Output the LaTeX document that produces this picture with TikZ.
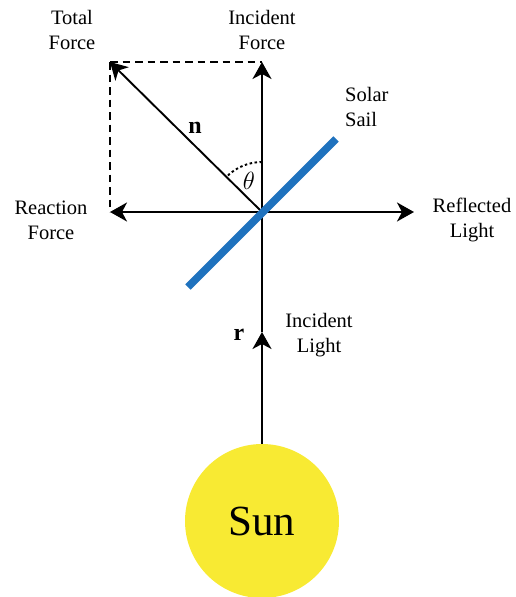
\documentclass[tikz,border=0pt]{standalone}
\usepackage{fontspec}
\setmainfont{Liberation Serif}
\usetikzlibrary{arrows.meta}
\definecolor{sunyellow}{RGB}{248,234,51}
\definecolor{sailblue}{RGB}{31,114,190}
\tikzset{
  lbl/.style={font=\fontsize{20.5}{25}\selectfont, align=center, inner sep=0pt},
  sym/.style={font=\fontsize{24}{24}\selectfont, inner sep=0pt},
  tip/.tip={Stealth[length=17pt,width=19pt,inset=5pt]},
  vec/.style={line width=1.9pt, -tip},
  guide/.style={line width=1.9pt, dash pattern=on 7.5pt off 5pt},
}
\begin{document}
\begin{tikzpicture}[x=1pt,y=-1pt]
\useasboundingbox (0,0) rectangle (516,597);
\coordinate (O) at (262,212);
\coordinate (T) at (262,62);
\coordinate (L) at (110,212);
\coordinate (R) at (414,212);
\coordinate (C) at (110,62);
\coordinate (M) at (262,332);
\coordinate (A) at (262,162);
\coordinate (S1) at (188,287);
\coordinate (S2) at (336,139);
\node[circle, fill=sunyellow, minimum size=154pt, inner sep=0pt,
      font=\fontsize{43}{50}\selectfont] (sun) at (262,521) {Sun};
% guides
\draw[guide] (C) -- (T);
\draw[guide] (C) -- (L);
% axes
\draw[vec] (O) -- (L);
\draw[vec] (O) -- (R);
\draw[vec] (sun.north) -- (M);
\draw[vec] (M) -- (T);
\draw[vec] (O) -- (C);
% theta arc
\draw[line width=1.9pt, dash pattern=on 2.5pt off 2.5pt] (A) arc[start angle=270, end angle=225, radius=50];
% sail
\draw[sailblue, line width=7.5pt] (S1) -- (S2);
% labels
\node[lbl] (tf) at (72,30) {Total\\Force};
\node[lbl] (if) at (262,30) {Incident\\Force};
\node[lbl, align=left, anchor=west] (ss) at (345,107) {Solar\\Sail};
\node[lbl] (rf) at (51,220) {Reaction\\Force};
\node[lbl] (rl) at (472,220) {Reflected\\Light};
\node[lbl] (il) at (319,335) {Incident\\Light};
\node[sym] (n) at (195,128) {$\mathbf{n}$};
\node[sym] (r) at (239,335) {$\mathbf{r}$};
\node[sym] (th) at (249,181) {$\theta$};
\end{tikzpicture}
\end{document}
